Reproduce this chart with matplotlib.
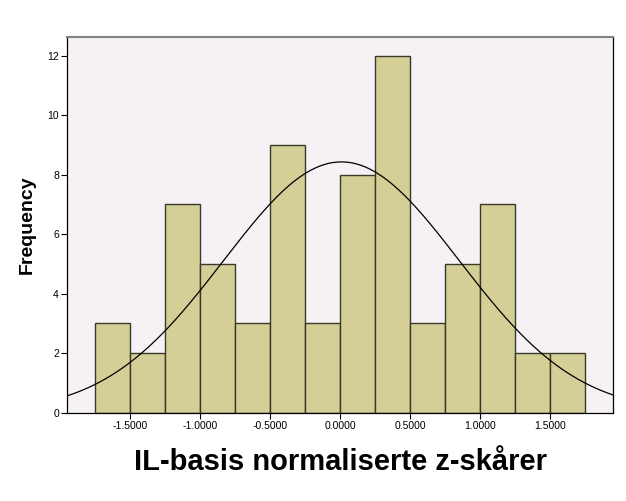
import matplotlib
matplotlib.use("Agg")
import matplotlib.pyplot as plt
import numpy as np

# bin edges and counts
bin_edges = [-1.75, -1.5, -1.25, -1.0, -0.75, -0.5, -0.25, 0.0,
             0.25, 0.5, 0.75, 1.0, 1.25, 1.5, 1.75]
counts = [3, 2, 7, 5, 3, 9, 3, 8, 12, 3, 5, 7, 2, 2]
x_ticks = [-1.5, -1.0, -0.5, 0.0, 0.5, 1.0, 1.5]
y_ticks = [0, 2, 4, 6, 8, 10, 12]

# normal curve parameters (estimated)
mean = 0.01
std = 0.84

plt.rcParams['font.family'] = ['Liberation Sans', 'DejaVu Sans']

fig = plt.figure(figsize=(6.26, 5.01), dpi=100)
ax = fig.add_axes([0.1075, 0.1766, 0.8713, 0.7501])
ax.set_facecolor('#F5F1F5')

widths = np.diff(bin_edges)
ax.bar(bin_edges[:-1], counts, width=widths, align='edge',
       color='#D4CE97', edgecolor='#3A3A28', linewidth=1.0)

n = sum(counts)
bw = widths[0]
xs = np.linspace(-1.945, 1.945, 400)
ys = n * bw / (std * np.sqrt(2 * np.pi)) * np.exp(-(xs - mean) ** 2 / (2 * std ** 2))
ax.plot(xs, ys, color='black', linewidth=0.9)

ax.set_xlim(-1.945, 1.945)
ax.set_ylim(0, 12.64)
ax.set_xticks(x_ticks)
ax.set_xticklabels(['%.4f' % t for t in x_ticks])
ax.set_yticks(y_ticks)
ax.tick_params(axis='both', labelsize=7.5, length=4, width=0.8, direction='out', pad=2)

for s in ['left', 'right', 'bottom']:
    ax.spines[s].set_color('black')
    ax.spines[s].set_linewidth(0.9)
ax.spines['top'].set_color('#808080')
ax.spines['top'].set_linewidth(1.5)

ax.set_ylabel('Frequency', fontsize=14, fontweight='bold', labelpad=8)
ax.set_xlabel('IL-basis normaliserte z-skårer', fontsize=21, fontweight='bold', labelpad=12)

fig.savefig('out.png', dpi=100)
